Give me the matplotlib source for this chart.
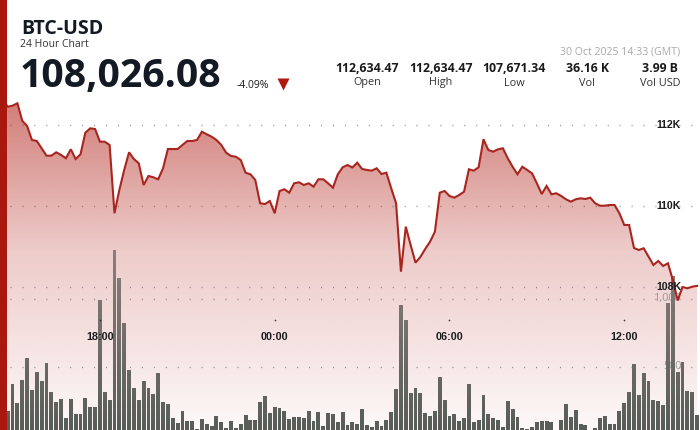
import numpy as np
import pandas as pd
import matplotlib
matplotlib.use("Agg")
import matplotlib.pyplot as plt
from matplotlib.path import Path
from matplotlib.patches import Rectangle
from matplotlib.lines import Line2D

# ---- data (10-minute bars, 29 Oct 14:40 -> 30 Oct 14:30 GMT) ----
times = pd.date_range("2025-10-29 14:40", "2025-10-30 14:30", freq="10min")

price = [112634, 112452, 112476, 112536, 112106, 111975, 111630, 111605, 111425, 111242,
         111242, 111326, 111259, 111178, 111400, 111160, 111276, 111810, 111918, 111901,
         111588, 111588, 111506, 109820, 110395, 110889, 111326, 111160, 111054, 110518,
         110741, 110709, 110659, 110931, 111407, 111407, 111407, 111506, 111605, 111605,
         111630, 111834, 111770, 111711, 111630, 111506, 111316, 111235, 111217, 111136,
         110822, 110783, 110642, 110067, 110049, 110123,
         109820, 110370, 110412, 110328, 110560, 110585, 110518, 110560, 110477, 110659,
         110659, 110560, 110452, 110783, 110955, 111012, 110951, 111069, 110914, 110889,
         110872, 110931, 110790, 110822, 110437, 110067, 108378, 109489, 109037, 108600,
         108741, 108938, 109119, 109365, 110328, 110370, 110247, 110205, 110272, 110353,
         110906, 110872, 110955, 111647, 111383, 111341, 111400, 111425, 111178, 110970,
         110783, 110970, 110889, 110807, 110560, 110296, 110494, 110289, 110314, 110247,
         110165, 110106, 110165, 110190, 110173, 110205, 110067, 110007, 110007, 110025,
         110025, 109820, 109531, 109531, 108963, 108914, 108956, 108748, 108543, 108642,
         108519, 108585, 108173, 107671, 108000, 107968, 108008, 108026]

volume = [200, 179, 375, 233, 402, 566, 328, 463, 397, 527,
          316, 240, 267, 122, 265, 152, 152, 274, 208, 208,
          990, 316, 260, 1360, 1154, 821, 480, 348, 260, 395,
          343, 304, 456, 240, 225, 122, 90, 174, 103, 103,
          44, 115, 81, 66, 140, 93, 49, 103, 49, 83,
          147, 108, 108, 240, 284, 164, 203, 198, 174, 120,
          132, 132, 125, 179, 103, 167, 69, 159, 152, 98,
          167, 71, 98, 81, 189, 76, 61, 105, 69, 108,
          171, 338, 955, 843, 311, 343, 309, 162, 137, 176,
          426, 257, 137, 154, 103, 127, 372, 98, 108, 296,
          152, 122, 110, 56, 248, 189, 130, 49, 44, 56,
          98, 105, 100, 93, 15, 108, 230, 135, 186, 79,
          71, 15, 49, 127, 137, 83, 81, 176, 237, 318,
          522, 294, 456, 395, 260, 250, 218, 968, 1171, 463,
          539, 321, 316, 149]

price_ticks = [108000, 110000, 112000]
price_tick_labels = ["108K", "110K", "112K"]
vol_ticks = [500, 1000]
vol_tick_labels = ["500", "1,000"]
time_ticks = [-6, 0, 6, 12]
time_tick_labels = ["18:00", "00:00", "06:00", "12:00"]

stat_values = ["112,634.47", "112,634.47", "107,671.34", "36.16 K", "3.99 B"]
stat_names = ["Open", "High", "Low", "Vol", "Vol USD"]

hours = (times - pd.Timestamp("2025-10-30")) / pd.Timedelta(hours=1)
hours = np.asarray(hours, dtype=float)

W, H = 700, 430
XLIM = (-9.43, 14.60)
PLIM = (104469, 115086)
VLIM = (36.75, 3197)

fig = plt.figure(figsize=(7, 4.3), dpi=100)
fig.patch.set_facecolor("white")

def fx(x):
    return x / W

def fy(y):
    return 1 - y / H

def vol_to_price(v):
    # volume value -> same height on the price axis
    return PLIM[0] + (v - VLIM[0]) / (VLIM[1] - VLIM[0]) * (PLIM[1] - PLIM[0])

def pix_to_price(y):
    return PLIM[0] + (H - y) / H * (PLIM[1] - PLIM[0])

# three stacked axes: bottom (grid + fill), middle (volume bars), top (line + labels)
ax_b = fig.add_axes([0, 0, 1, 1])
ax_v = fig.add_axes([0, 0, 1, 1])
ax_t = fig.add_axes([0, 0, 1, 1])
for a in (ax_b, ax_v, ax_t):
    a.set_xlim(*XLIM)
    a.axis("off")
    a.patch.set_visible(False)
ax_b.set_ylim(*PLIM)
ax_t.set_ylim(*PLIM)
ax_v.set_ylim(*VLIM)

dots = (0, (0.7, 7.9))
for p in price_ticks:
    ax_b.plot([-9.1, 14.6], [p, p], color="#8c8c8c", lw=1.0, ls=dots)
for v, lab in zip(vol_ticks, vol_tick_labels):
    yv = vol_to_price(v)
    ax_b.plot([-9.1, 14.6], [yv, yv], color="#8c8c8c", lw=1.0, ls=dots)
    # volume labels sit under the bars
    ax_b.text(13.98, yv, lab, ha="right", va="center", fontsize=7.8,
              color="#9a9a9a", family="Open Sans")

# gradient fill under price line
poly = ax_b.fill_between(hours, price, PLIM[0], facecolor="none", edgecolor="none")
rows = np.arange(H) + 0.5
alpha = np.interp(rows, [95, 250, 430], [0.62, 0.24, 0.03])
img = np.zeros((H, 2, 4))
img[..., 0] = 180 / 255
img[..., 1] = 40 / 255
img[..., 2] = 32 / 255
img[..., 3] = alpha[:, None]
im = ax_b.imshow(img, extent=[XLIM[0], XLIM[1], PLIM[0], PLIM[1]], origin="upper",
                 aspect="auto", interpolation="bilinear", zorder=2)
im.set_clip_path(poly.get_paths()[0], transform=ax_b.transData)

# volume bars with vertical grey gradient
bars = ax_v.bar(hours, volume, width=0.8 / 6, color="none", edgecolor="none")
bar_path = Path.make_compound_path(*[b.get_path().transformed(b.get_patch_transform()) for b in bars])
rgb_top = np.array([150, 135, 132]) / 255
rgb_mid = np.array([138, 127, 124]) / 255
rgb_bot = np.array([88, 93, 87]) / 255
bimg = np.zeros((H, 2, 3))
for c in range(3):
    bimg[..., c] = np.interp(rows, [200, 250, 430], [rgb_top[c], rgb_mid[c], rgb_bot[c]])[:, None]
bim = ax_v.imshow(bimg, extent=[XLIM[0], XLIM[1], VLIM[0], VLIM[1]], origin="upper",
                  aspect="auto", interpolation="bilinear")
bim.set_clip_path(bar_path, transform=ax_v.transData)

# price line
ax_t.plot(hours, price, color="#a8261f", lw=1.5, solid_joinstyle="miter")

for p, lab in zip(price_ticks, price_tick_labels):
    ax_t.text(13.95, p, lab, ha="right", va="center", fontsize=7.6,
              fontweight="bold", color="#1c1c1c", family="Liberation Sans")

for t, lab in zip(time_ticks, time_tick_labels):
    ax_t.plot([t], [pix_to_price(320)], marker="o", ms=1.2, color="#333333", mec="none")
    ax_t.text(t, pix_to_price(337), lab, ha="center", va="center",
              fontsize=7.8, fontweight="bold", color="#1c1c1c", family="Liberation Sans")

# ---- header ----
dark = "#131a24"
fig.text(fx(21), fy(34), "BTC-USD", fontsize=14, fontweight="bold", color=dark,
         family="Open Sans", va="baseline")
fig.text(fx(20), fy(47), "24 Hour Chart", fontsize=7.5, color="#333333",
         family="Open Sans", va="baseline")
fig.text(fx(20), fy(87.5), "108,026.08", fontsize=28.2, fontweight="bold", color=dark,
         family="Open Sans", va="baseline")
fig.text(fx(237), fy(87.5), "-4.09%", fontsize=7.5, color="#1a1a1a",
         family="Open Sans", va="baseline")
fig.add_artist(Line2D([fx(283)], [fy(84)], marker="v", ms=8, color="#b0170e",
                      mec="none", transform=fig.transFigure))
fig.text(fx(680), fy(51.5), "30 Oct 2025 14:33 (GMT)", fontsize=7.6, color="#a9a9a9",
         family="Open Sans", ha="right", va="center")

stat_x = [367.5, 441, 514, 587, 660]
for x, val, name in zip(stat_x, stat_values, stat_names):
    fig.text(fx(x), fy(68), val, fontsize=8.8, fontweight="bold", color="#1a1a1a",
             family="Open Sans", ha="center", va="center")
    fig.text(fx(x), fy(83), name, fontsize=7.8, color="#333333",
             family="Open Sans", ha="center", va="center")

# red stripe on the left edge
fig.add_artist(Rectangle((0, 0), fx(7.3), 1, transform=fig.transFigure,
                         facecolor="#a8180e", edgecolor="none", zorder=10))

fig.savefig("out.png", dpi=100)
